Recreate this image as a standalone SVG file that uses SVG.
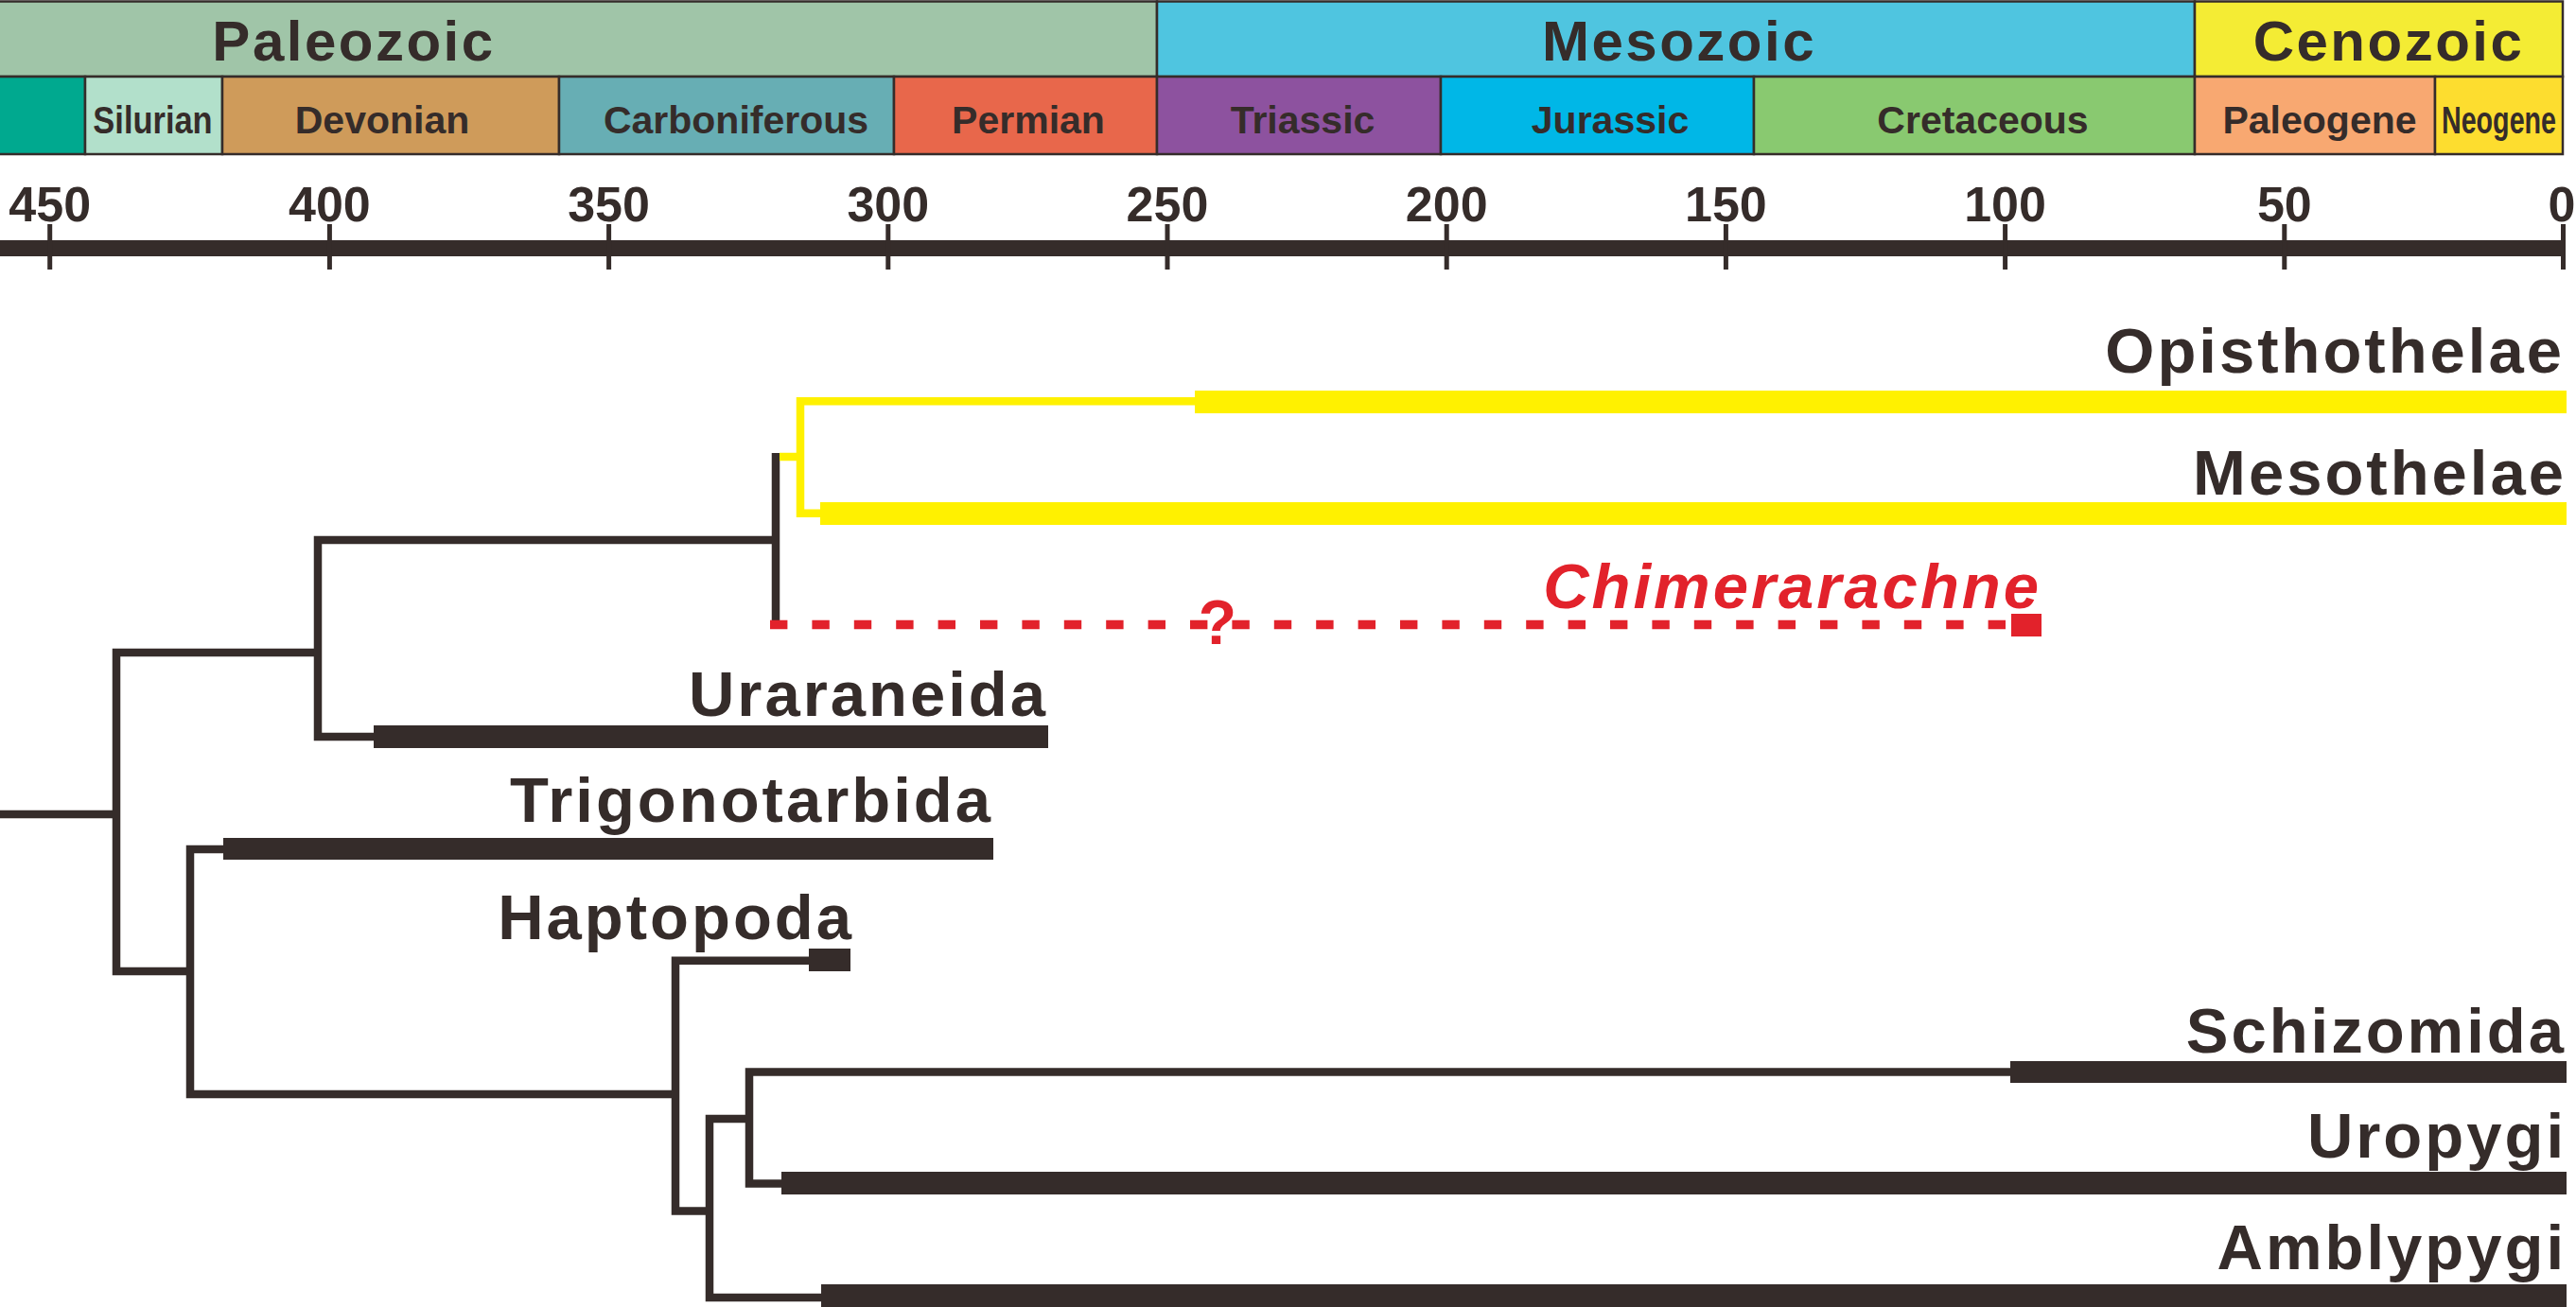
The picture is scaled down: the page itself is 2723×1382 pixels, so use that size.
<svg xmlns="http://www.w3.org/2000/svg" width="2723" height="1382" viewBox="0 0 2723 1382">
<style>
text{font-family:"Liberation Sans",Arial,sans-serif;font-weight:bold;fill:#352c2a}
.era{font-size:60px;letter-spacing:2.5px;text-anchor:middle}
.per{font-size:41px;text-anchor:middle}
.tick{font-size:52px;text-anchor:middle}
.lbl{font-size:67px;letter-spacing:3px;text-anchor:end}
.box{stroke:#352c2a;stroke-width:2.5}
.br{fill:none;stroke:#352c2a;stroke-width:8.5;stroke-linejoin:miter}
.ybr{fill:none;stroke:#fff100;stroke-width:8.5;stroke-linejoin:miter}
.bar{fill:#352c2a}
.ybar{fill:#fff100}
</style>
<rect width="2723" height="1382" fill="#ffffff"/>
<g id="timescale">
<g id="eras">
<rect class="box" x="-2" y="1.5" width="1225" height="79.5" fill="#a0c5a8"/>
<rect class="box" x="1223" y="1.5" width="1097" height="79.5" fill="#4fc5e0"/>
<rect class="box" x="2320" y="1.5" width="389" height="79.5" fill="#f4ec34"/>
<text class="era" x="374" y="64">Paleozoic</text>
<text class="era" x="1775" y="64">Mesozoic</text>
<text class="era" x="2525" y="64">Cenozoic</text>
</g>
<g id="periods">
<rect class="box" x="-2" y="81" width="92" height="82" fill="#00a98f"/>
<rect class="box" x="90" y="81" width="145" height="82" fill="#b2e0cb"/>
<rect class="box" x="235" y="81" width="356" height="82" fill="#cf9b5a"/>
<rect class="box" x="591" y="81" width="354" height="82" fill="#67aeb4"/>
<rect class="box" x="945" y="81" width="278" height="82" fill="#e8674b"/>
<rect class="box" x="1223" y="81" width="300" height="82" fill="#8d529f"/>
<rect class="box" x="1523" y="81" width="331" height="82" fill="#00b7e7"/>
<rect class="box" x="1854" y="81" width="466" height="82" fill="#89c970"/>
<rect class="box" x="2320" y="81" width="254" height="82" fill="#f8a871"/>
<rect class="box" x="2574" y="81" width="135" height="82" fill="#fddd2f"/>
<text class="per" transform="translate(161.5,141) scale(0.84,1)">Silurian</text>
<text class="per" x="404" y="141">Devonian</text>
<text class="per" x="778" y="141">Carboniferous</text>
<text class="per" x="1087" y="141">Permian</text>
<text class="per" x="1377" y="141">Triassic</text>
<text class="per" x="1702" y="141">Jurassic</text>
<text class="per" x="2096" y="141">Cretaceous</text>
<text class="per" x="2452" y="141">Paleogene</text>
<text class="per" transform="translate(2641.5,141) scale(0.7,1)">Neogene</text>
</g>
<g id="axis">
<rect class="bar" x="0" y="254" width="2712" height="17"/>
<rect class="bar" x="50.2" y="237" width="5" height="48"/>
<rect class="bar" x="345.9" y="237" width="5" height="48"/>
<rect class="bar" x="641.1" y="237" width="5" height="48"/>
<rect class="bar" x="936.3" y="237" width="5" height="48"/>
<rect class="bar" x="1231.5" y="237" width="5" height="48"/>
<rect class="bar" x="1526.7" y="237" width="5" height="48"/>
<rect class="bar" x="1821.9" y="237" width="5" height="48"/>
<rect class="bar" x="2117.1" y="237" width="5" height="48"/>
<rect class="bar" x="2412.3" y="237" width="5" height="48"/>
<rect class="bar" x="2707" y="237" width="5" height="48"/>
<text class="tick" x="52.7" y="234">450</text>
<text class="tick" x="348.4" y="234">400</text>
<text class="tick" x="643.6" y="234">350</text>
<text class="tick" x="938.8" y="234">300</text>
<text class="tick" x="1234" y="234">250</text>
<text class="tick" x="1529.2" y="234">200</text>
<text class="tick" x="1824.4" y="234">150</text>
<text class="tick" x="2119.6" y="234">100</text>
<text class="tick" x="2414.8" y="234">50</text>
<text class="tick" x="2708" y="234">0</text>
</g>
</g>
<g id="connectors">
<path class="br" d="M0,861 H123"/>
<path class="br" d="M336,690 H123 V1027 H201"/>
<path class="br" d="M820,571 H336 V779 H395"/>
<path class="br" d="M820,479 V665"/>
<path class="ybr" d="M824,483 H846"/>
<path class="ybr" d="M1263,424.3 H846 V542.7 H867"/>
<path d="M814,660.5 H2121" fill="none" stroke="#e2222b" stroke-width="9.5" stroke-dasharray="18.4 26"/>
<path class="br" d="M236,898 H201 V1157 H714"/>
<path class="br" d="M855,1015.8 H714 V1280.5 H750"/>
<path class="br" d="M792,1183 H750 V1372 H868"/>
<path class="br" d="M2125,1133.5 H792 V1251.5 H826"/>
<text x="1287" y="681" font-size="66" text-anchor="middle" style="fill:#e2222b">?</text>
</g>
<g id="Opisthothelae">
<rect class="ybar" x="1263" y="413" width="1450" height="24"/>
<text class="lbl" x="2711" y="394">Opisthothelae</text>
</g>
<g id="Mesothelae">
<rect class="ybar" x="867" y="531" width="1846" height="24"/>
<text class="lbl" x="2713" y="523">Mesothelae</text>
</g>
<g id="Chimerarachne">
<rect x="2126" y="649" width="32" height="24" fill="#e2222b"/>
<text class="lbl" x="2158" y="643" style="fill:#e2222b;font-style:italic">Chimerarachne</text>
</g>
<g id="Uraraneida">
<rect class="bar" x="395" y="767" width="713" height="24"/>
<text class="lbl" x="1108" y="757">Uraraneida</text>
</g>
<g id="Trigonotarbida">
<rect class="bar" x="236" y="886" width="814" height="23"/>
<text class="lbl" x="1050" y="869">Trigonotarbida</text>
</g>
<g id="Haptopoda">
<rect class="bar" x="855" y="1003" width="44" height="24"/>
<text class="lbl" x="903" y="993">Haptopoda</text>
</g>
<g id="Schizomida">
<rect class="bar" x="2125" y="1122" width="588" height="23"/>
<text class="lbl" x="2713" y="1113">Schizomida</text>
</g>
<g id="Uropygi">
<rect class="bar" x="826" y="1239" width="1887" height="24"/>
<text class="lbl" x="2713" y="1224">Uropygi</text>
</g>
<g id="Amblypygi">
<rect class="bar" x="868" y="1358" width="1845" height="24"/>
<text class="lbl" x="2713" y="1342">Amblypygi</text>
</g>
</svg>
